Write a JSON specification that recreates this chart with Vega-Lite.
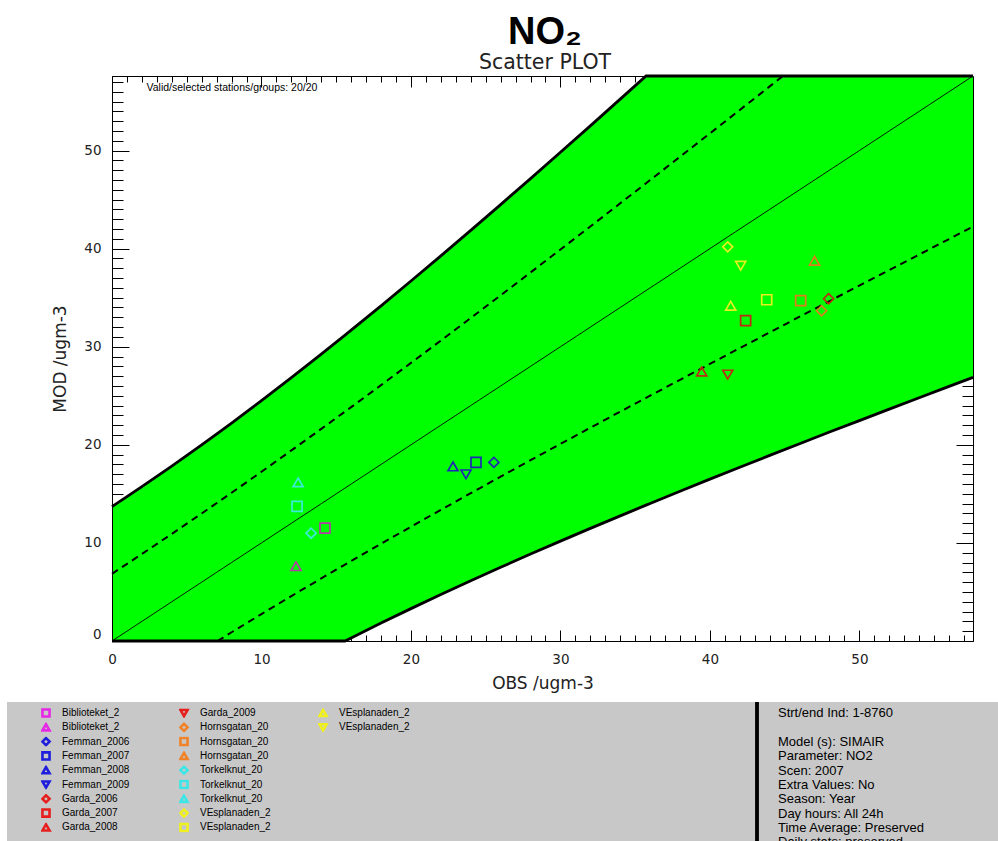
{
  "$schema": "https://vega.github.io/schema/vega-lite/v6.json",
  "padding": {"left": 7, "top": 13, "right": 0, "bottom": 0},
  "background": "white",
  "datasets": {
    "stations": [
      {"name": "Biblioteket_2007", "site": "Biblioteket", "year": "2007", "obs": 14.25, "mod": 11.50},
      {"name": "Biblioteket_2008", "site": "Biblioteket", "year": "2008", "obs": 12.31, "mod": 7.63},
      {"name": "Femman_2006", "site": "Femman", "year": "2006", "obs": 25.55, "mod": 18.21},
      {"name": "Femman_2007", "site": "Femman", "year": "2007", "obs": 24.35, "mod": 18.21},
      {"name": "Femman_2008", "site": "Femman", "year": "2008", "obs": 22.81, "mod": 17.80},
      {"name": "Femman_2009", "site": "Femman", "year": "2009", "obs": 23.68, "mod": 16.99},
      {"name": "Garda_2006", "site": "Garda", "year": "2006", "obs": 47.94, "mod": 34.89},
      {"name": "Garda_2007", "site": "Garda", "year": "2007", "obs": 42.39, "mod": 32.66},
      {"name": "Garda_2008", "site": "Garda", "year": "2008", "obs": 39.45, "mod": 27.47},
      {"name": "Garda_2009", "site": "Garda", "year": "2009", "obs": 41.19, "mod": 27.16},
      {"name": "Hornsgatan_2006", "site": "Hornsgatan", "year": "2006", "obs": 47.47, "mod": 33.67},
      {"name": "Hornsgatan_2007", "site": "Hornsgatan", "year": "2007", "obs": 46.07, "mod": 34.69},
      {"name": "Hornsgatan_2008", "site": "Hornsgatan", "year": "2008", "obs": 47.00, "mod": 38.76},
      {"name": "Torkelknut_2006", "site": "Torkelknut", "year": "2006", "obs": 13.32, "mod": 10.99},
      {"name": "Torkelknut_2007", "site": "Torkelknut", "year": "2007", "obs": 12.38, "mod": 13.73},
      {"name": "Torkelknut_2008", "site": "Torkelknut", "year": "2008", "obs": 12.45, "mod": 16.17},
      {"name": "VEsplanaden_2006", "site": "VEsplanaden", "year": "2006", "obs": 41.19, "mod": 40.18},
      {"name": "VEsplanaden_2007", "site": "VEsplanaden", "year": "2007", "obs": 43.80, "mod": 34.79},
      {"name": "VEsplanaden_2008", "site": "VEsplanaden", "year": "2008", "obs": 41.39, "mod": 34.18},
      {"name": "VEsplanaden_2009", "site": "VEsplanaden", "year": "2009", "obs": 42.06, "mod": 38.25}
    ],
    "envelope": [
      {"obs": 0, "hi": 13.70, "lo": 0, "dhi": 6.85, "dlo": null},
      {"obs": 2, "hi": 15.73, "lo": 0, "dhi": 8.87, "dlo": null},
      {"obs": 4, "hi": 17.83, "lo": 0, "dhi": 10.92, "dlo": null},
      {"obs": 6, "hi": 20.00, "lo": 0, "dhi": 13.00, "dlo": null},
      {"obs": 7.06, "hi": 21.17, "lo": 0, "dhi": 14.12, "dlo": 0},
      {"obs": 8, "hi": 22.22, "lo": 0, "dhi": 15.11, "dlo": 0.89},
      {"obs": 10, "hi": 24.51, "lo": 0, "dhi": 17.25, "dlo": 2.75},
      {"obs": 12, "hi": 26.85, "lo": 0, "dhi": 19.43, "dlo": 4.58},
      {"obs": 14, "hi": 29.24, "lo": 0, "dhi": 21.62, "dlo": 6.38},
      {"obs": 15.59, "hi": 31.18, "lo": 0, "dhi": 23.39, "dlo": 7.79},
      {"obs": 16, "hi": 31.69, "lo": 0.31, "dhi": 23.84, "dlo": 8.16},
      {"obs": 18, "hi": 34.17, "lo": 1.83, "dhi": 26.09, "dlo": 9.91},
      {"obs": 20, "hi": 36.70, "lo": 3.30, "dhi": 28.35, "dlo": 11.65},
      {"obs": 22, "hi": 39.26, "lo": 4.74, "dhi": 30.63, "dlo": 13.37},
      {"obs": 24, "hi": 41.86, "lo": 6.14, "dhi": 32.93, "dlo": 15.07},
      {"obs": 26, "hi": 44.49, "lo": 7.51, "dhi": 35.24, "dlo": 16.76},
      {"obs": 28, "hi": 47.14, "lo": 8.86, "dhi": 37.57, "dlo": 18.43},
      {"obs": 30, "hi": 49.82, "lo": 10.18, "dhi": 39.91, "dlo": 20.09},
      {"obs": 32, "hi": 52.52, "lo": 11.48, "dhi": 42.26, "dlo": 21.74},
      {"obs": 34, "hi": 55.24, "lo": 12.76, "dhi": 44.62, "dlo": 23.38},
      {"obs": 35.73, "hi": 57.6, "lo": 13.85, "dhi": 46.67, "dlo": 24.79},
      {"obs": 36, "hi": 57.6, "lo": 14.02, "dhi": 46.99, "dlo": 25.01},
      {"obs": 38, "hi": 57.6, "lo": 15.26, "dhi": 49.37, "dlo": 26.63},
      {"obs": 40, "hi": 57.6, "lo": 16.50, "dhi": 51.75, "dlo": 28.25},
      {"obs": 42, "hi": 57.6, "lo": 17.71, "dhi": 54.14, "dlo": 29.86},
      {"obs": 44, "hi": 57.6, "lo": 18.92, "dhi": 56.54, "dlo": 31.46},
      {"obs": 46, "hi": 57.6, "lo": 20.11, "dhi": 58.94, "dlo": 33.06},
      {"obs": 48, "hi": 57.6, "lo": 21.30, "dhi": null, "dlo": 34.65},
      {"obs": 50, "hi": 57.6, "lo": 22.47, "dhi": null, "dlo": 36.24},
      {"obs": 52, "hi": 57.6, "lo": 23.64, "dhi": null, "dlo": 37.82},
      {"obs": 54, "hi": 57.6, "lo": 24.80, "dhi": null, "dlo": 39.40},
      {"obs": 56, "hi": 57.6, "lo": 25.96, "dhi": null, "dlo": 40.98},
      {"obs": 57.6, "hi": 57.6, "lo": 26.87, "dhi": null, "dlo": 42.24}
    ],
    "note": [
      {"text": "Valid/selected stations/groups: 20/20"}
    ],
    "info": [
      {"n": 0, "line": "Strt/end Ind: 1-8760"},
      {"n": 2, "line": "Model (s): SIMAIR"},
      {"n": 3, "line": "Parameter: NO2"},
      {"n": 4, "line": "Scen: 2007"},
      {"n": 5, "line": "Extra Values: No"},
      {"n": 6, "line": "Season: Year"},
      {"n": 7, "line": "Day hours: All 24h"},
      {"n": 8, "line": "Time Average: Preserved"},
      {"n": 9, "line": "Daily stats: preserved"}
    ]
  },
  "config": {
    "view": {"stroke": null},
    "axis": {
      "grid": false,
      "domain": false,
      "domainColor": "black",
      "domainWidth": 1,
      "labelFont": "DejaVu Sans",
      "labelFontSize": 13.5,
      "labelColor": "#222222",
      "tickColor": "black",
      "tickWidth": 1,
      "titleFont": "DejaVu Sans",
      "titleFontSize": 17,
      "titleFontWeight": "normal",
      "titleColor": "#222222"
    },
    "legend": {
      "labelFont": "Liberation Sans",
      "labelFontSize": 10,
      "labelColor": "black",
      "symbolSize": 50,
      "symbolStrokeWidth": 2.6,
      "symbolOpacity": 1,
      "clipHeight": 10,
      "rowPadding": 4.3,
      "labelOffset": 11,
      "padding": 0,
      "labelLimit": 300
    }
  },
  "spacing": 0,
  "resolve": {"scale": {"color": "independent", "shape": "independent"}},
  "vconcat": [
    {
      "width": 966,
      "height": 565,
      "title": {
        "text": "NO₂",
        "subtitle": "Scatter PLOT",
        "anchor": "middle",
        "dx": 55,
        "font": "Liberation Sans",
        "fontSize": 38,
        "fontWeight": "bold",
        "color": "black",
        "subtitleFont": "DejaVu Sans",
        "subtitleFontSize": 20.5,
        "subtitleColor": "#222222",
        "subtitlePadding": 1,
        "offset": -3
      },
      "resolve": {"axis": {"x": "independent", "y": "independent"}},
      "layer": [
        {
          "data": {"name": "envelope"},
          "mark": {"type": "area", "color": "#00ff00", "opacity": 1},
          "encoding": {
            "x": {
              "field": "obs", "type": "quantitative",
              "scale": {"domain": [0, 57.6], "range": [105, 966], "nice": false, "zero": false},
              "axis": {
                "orient": "bottom", "values": [0, 10, 20, 30, 40, 50], "format": "d",
                "tickSize": -11, "labelPadding": 22, "labelFlush": false, "labelOverlap": false,
                "title": "OBS /ugm-3", "titleY": 47, "titleBaseline": "alphabetic",
                "minExtent": 59, "maxExtent": 59
              }
            },
            "y": {
              "field": "lo", "type": "quantitative",
              "scale": {"domain": [0, 57.6], "nice": false, "zero": false},
              "axis": {
                "orient": "left", "offset": -105, "values": [0, 10, 20, 30, 40, 50], "format": "d",
                "tickSize": -17, "labelPadding": 28, "labelFlush": true, "labelOverlap": false,
                "title": "MOD /ugm-3", "titleX": -47, "titleBaseline": "alphabetic",
                "minExtent": 0
              }
            },
            "y2": {"field": "hi"}
          }
        },
        {
          "data": {"name": "envelope"},
          "mark": {"type": "line", "color": "black", "strokeWidth": 0.9},
          "encoding": {
            "x": {
              "field": "obs", "type": "quantitative",
              "scale": {"domain": [0, 57.6], "range": [105, 966], "nice": false, "zero": false},
              "axis": {
                "orient": "bottom",
                "values": [0,1,2,3,4,5,6,7,8,9,10,11,12,13,14,15,16,17,18,19,20,21,22,23,24,25,26,27,28,29,30,31,32,33,34,35,36,37,38,39,40,41,42,43,44,45,46,47,48,49,50,51,52,53,54,55,56,57],
                "tickSize": -6, "labels": false, "title": null
              }
            },
            "y": {
              "field": "obs", "type": "quantitative",
              "scale": {"domain": [0, 57.6], "nice": false, "zero": false},
              "axis": {
                "orient": "left", "offset": -105, "minExtent": 0,
                "values": [0,1,2,3,4,5,6,7,8,9,10,11,12,13,14,15,16,17,18,19,20,21,22,23,24,25,26,27,28,29,30,31,32,33,34,35,36,37,38,39,40,41,42,43,44,45,46,47,48,49,50,51,52,53,54,55,56,57],
                "tickSize": -11, "labels": false, "title": null
              }
            }
          }
        },
        {
          "data": {"name": "envelope"},
          "mark": {"type": "line", "color": "black", "strokeWidth": 2, "strokeDash": [7, 5], "clip": true},
          "encoding": {
            "x": {
              "field": "obs", "type": "quantitative",
              "scale": {"domain": [0, 57.6], "range": [105, 966], "nice": false, "zero": false},
              "axis": {"orient": "top", "values": [0, 10, 20, 30, 40, 50], "tickSize": -11, "labels": false, "title": null}
            },
            "y": {
              "field": "dhi", "type": "quantitative",
              "scale": {"domain": [0, 57.6], "nice": false, "zero": false},
              "axis": {"orient": "right", "values": [0, 10, 20, 30, 40, 50], "tickSize": -17, "labels": false, "title": null, "minExtent": 0}
            }
          }
        },
        {
          "data": {"name": "envelope"},
          "mark": {"type": "line", "color": "black", "strokeWidth": 2, "strokeDash": [7, 5], "clip": true},
          "encoding": {
            "x": {
              "field": "obs", "type": "quantitative",
              "scale": {"domain": [0, 57.6], "range": [105, 966], "nice": false, "zero": false},
              "axis": {
                "orient": "top",
                "values": [0,1,2,3,4,5,6,7,8,9,10,11,12,13,14,15,16,17,18,19,20,21,22,23,24,25,26,27,28,29,30,31,32,33,34,35,36,37,38,39,40,41,42,43,44,45,46,47,48,49,50,51,52,53,54,55,56,57],
                "tickSize": -6, "labels": false, "title": null
              }
            },
            "y": {
              "field": "dlo", "type": "quantitative",
              "scale": {"domain": [0, 57.6], "nice": false, "zero": false},
              "axis": {
                "orient": "right", "minExtent": 0,
                "values": [0,1,2,3,4,5,6,7,8,9,10,11,12,13,14,15,16,17,18,19,20,21,22,23,24,25,26,27,28,29,30,31,32,33,34,35,36,37,38,39,40,41,42,43,44,45,46,47,48,49,50,51,52,53,54,55,56,57],
                "tickSize": -11, "labels": false, "title": null
              }
            }
          }
        },
        {
          "data": {"name": "envelope"},
          "mark": {"type": "line", "color": "black", "strokeWidth": 2.8},
          "encoding": {
            "x": {
              "field": "obs", "type": "quantitative",
              "scale": {"domain": [0, 57.6], "range": [105, 966], "nice": false, "zero": false},
              "axis": {"orient": "bottom", "ticks": false, "labels": false, "title": null, "domain": true, "zindex": 1}
            },
            "y": {
              "field": "hi", "type": "quantitative",
              "scale": {"domain": [0, 57.6], "nice": false, "zero": false},
              "axis": {"orient": "left", "offset": -105, "minExtent": 0, "ticks": false, "labels": false, "title": null, "domain": true, "zindex": 1}
            }
          }
        },
        {
          "data": {"name": "envelope"},
          "mark": {"type": "line", "color": "black", "strokeWidth": 2.8},
          "encoding": {
            "x": {
              "field": "obs", "type": "quantitative",
              "scale": {"domain": [0, 57.6], "range": [105, 966], "nice": false, "zero": false},
              "axis": {"orient": "top", "ticks": false, "labels": false, "title": null, "domain": true, "zindex": 1}
            },
            "y": {
              "field": "lo", "type": "quantitative",
              "scale": {"domain": [0, 57.6], "nice": false, "zero": false},
              "axis": {"orient": "right", "minExtent": 0, "ticks": false, "labels": false, "title": null, "domain": true, "zindex": 1}
            }
          }
        },
        {
          "data": {"name": "stations"},
          "mark": {"type": "point", "filled": false, "size": 100, "strokeWidth": 1.7, "opacity": 1},
          "encoding": {
            "x": {"field": "obs", "type": "quantitative", "scale": {"domain": [0, 57.6], "range": [105, 966], "nice": false, "zero": false}, "axis": null},
            "y": {"field": "mod", "type": "quantitative", "scale": {"domain": [0, 57.6], "nice": false, "zero": false}, "axis": null},
            "color": {
              "field": "site", "type": "nominal",
              "scale": {
                "domain": ["Biblioteket", "Femman", "Garda", "Hornsgatan", "Torkelknut", "VEsplanaden"],
                "range": ["#b43ca8", "#1e28b4", "#c02a14", "#dc7d1e", "#3cebd7", "#e6f01e"]
              },
              "legend": null
            },
            "shape": {
              "field": "year", "type": "nominal",
              "scale": {"domain": ["2006", "2007", "2008", "2009"], "range": ["diamond", "square", "triangle-up", "triangle-down"]},
              "legend": null
            }
          }
        },
        {
          "data": {"name": "note"},
          "mark": {"type": "text", "align": "left", "baseline": "middle", "font": "Liberation Sans", "fontSize": 10.5, "color": "black"},
          "encoding": {
            "x": {"datum": 2.31, "type": "quantitative", "scale": {"domain": [0, 57.6], "range": [105, 966], "nice": false, "zero": false}, "axis": null},
            "y": {"datum": 56.35, "type": "quantitative", "scale": {"domain": [0, 57.6], "nice": false, "zero": false}, "axis": null},
            "text": {"field": "text"}
          }
        }
      ]
    },
    {
      "spacing": 0,
      "resolve": {"scale": {"color": "independent", "shape": "independent"}},
      "hconcat": [
        {
          "width": 748,
          "height": 140,
          "view": {"fill": "#c8c8c8", "stroke": null},
          "data": {"name": "stations"},
          "resolve": {"scale": {"color": "independent", "shape": "independent"}},
          "layer": [
            {
              "transform": [{"filter": {"field": "name", "oneOf": ["Biblioteket_2007", "Biblioteket_2008", "Femman_2006", "Femman_2007", "Femman_2008", "Femman_2009", "Garda_2006", "Garda_2007", "Garda_2008"]}}],
              "mark": {"type": "point", "filled": false, "opacity": 0},
              "encoding": {
                "color": {
                  "field": "name", "type": "nominal",
                  "scale": {
                    "domain": ["Biblioteket_2007", "Biblioteket_2008", "Femman_2006", "Femman_2007", "Femman_2008", "Femman_2009", "Garda_2006", "Garda_2007", "Garda_2008"],
                    "range": ["#e628e6", "#e628e6", "#1e1edc", "#1e1edc", "#1e1edc", "#1e1edc", "#e61e1e", "#e61e1e", "#e61e1e"]
                  },
                  "legend": {"title": null, "orient": "none", "legendX": 34, "legendY": 6, "labelExpr": "substring(datum.label, 0, 13)"}
                },
                "shape": {
                  "field": "name", "type": "nominal",
                  "scale": {
                    "domain": ["Biblioteket_2007", "Biblioteket_2008", "Femman_2006", "Femman_2007", "Femman_2008", "Femman_2009", "Garda_2006", "Garda_2007", "Garda_2008"],
                    "range": ["square", "triangle-up", "diamond", "square", "triangle-up", "triangle-down", "diamond", "square", "triangle-up"]
                  },
                  "legend": {"title": null, "orient": "none", "legendX": 34, "legendY": 6, "labelExpr": "substring(datum.label, 0, 13)"}
                }
              }
            },
            {
              "transform": [{"filter": {"field": "name", "oneOf": ["Garda_2009", "Hornsgatan_2006", "Hornsgatan_2007", "Hornsgatan_2008", "Torkelknut_2006", "Torkelknut_2007", "Torkelknut_2008", "VEsplanaden_2006", "VEsplanaden_2007"]}}],
              "mark": {"type": "point", "filled": false, "opacity": 0},
              "encoding": {
                "color": {
                  "field": "name", "type": "nominal",
                  "scale": {
                    "domain": ["Garda_2009", "Hornsgatan_2006", "Hornsgatan_2007", "Hornsgatan_2008", "Torkelknut_2006", "Torkelknut_2007", "Torkelknut_2008", "VEsplanaden_2006", "VEsplanaden_2007"],
                    "range": ["#e61e1e", "#f08228", "#f08228", "#f08228", "#3ce6e6", "#3ce6e6", "#3ce6e6", "#f0f01e", "#f0f01e"]
                  },
                  "legend": {"title": null, "orient": "none", "legendX": 172, "legendY": 6, "labelExpr": "substring(datum.label, 0, 13)"}
                },
                "shape": {
                  "field": "name", "type": "nominal",
                  "scale": {
                    "domain": ["Garda_2009", "Hornsgatan_2006", "Hornsgatan_2007", "Hornsgatan_2008", "Torkelknut_2006", "Torkelknut_2007", "Torkelknut_2008", "VEsplanaden_2006", "VEsplanaden_2007"],
                    "range": ["triangle-down", "diamond", "square", "triangle-up", "diamond", "square", "triangle-up", "diamond", "square"]
                  },
                  "legend": {"title": null, "orient": "none", "legendX": 172, "legendY": 6, "labelExpr": "substring(datum.label, 0, 13)"}
                }
              }
            },
            {
              "transform": [{"filter": {"field": "name", "oneOf": ["VEsplanaden_2008", "VEsplanaden_2009"]}}],
              "mark": {"type": "point", "filled": false, "opacity": 0},
              "encoding": {
                "color": {
                  "field": "name", "type": "nominal",
                  "scale": {"domain": ["VEsplanaden_2008", "VEsplanaden_2009"], "range": ["#f0f01e", "#f0f01e"]},
                  "legend": {"title": null, "orient": "none", "legendX": 311, "legendY": 6, "labelExpr": "substring(datum.label, 0, 13)"}
                },
                "shape": {
                  "field": "name", "type": "nominal",
                  "scale": {"domain": ["VEsplanaden_2008", "VEsplanaden_2009"], "range": ["triangle-up", "triangle-down"]},
                  "legend": {"title": null, "orient": "none", "legendX": 311, "legendY": 6, "labelExpr": "substring(datum.label, 0, 13)"}
                }
              }
            }
          ]
        },
        {
          "width": 243,
          "height": 140,
          "view": {"fill": "#c8c8c8", "stroke": null},
          "data": {"name": "info"},
          "layer": [
            {
              "mark": {"type": "rule", "color": "black", "strokeWidth": 2.5},
              "encoding": {
                "x": {"datum": 0, "type": "quantitative", "scale": {"domain": [0, 1]}, "axis": null}
              }
            },
            {
              "mark": {"type": "text", "align": "left", "baseline": "middle", "dx": 21, "font": "Liberation Sans", "fontSize": 13, "color": "black", "clip": true},
              "encoding": {
                "x": {"datum": 0, "type": "quantitative", "scale": {"domain": [0, 1]}, "axis": null},
                "y": {"field": "n", "type": "quantitative", "scale": {"domain": [-0.77, 8.97], "reverse": true, "nice": false, "zero": false}, "axis": null},
                "text": {"field": "line"}
              }
            }
          ]
        }
      ]
    }
  ]
}
